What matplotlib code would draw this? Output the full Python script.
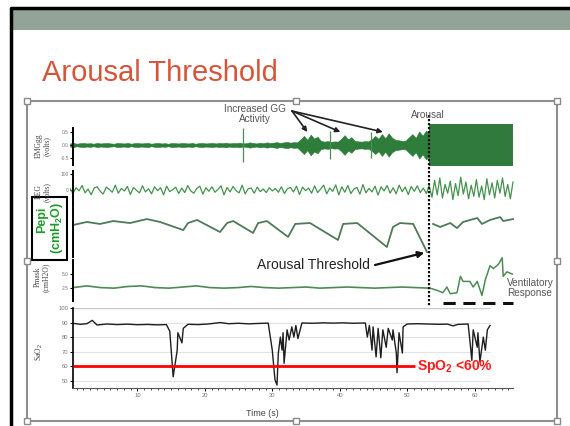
import matplotlib.pyplot as plt
import numpy as np
from matplotlib.patches import Rectangle

plt.rcParams['font.family'] = ['Liberation Sans', 'DejaVu Sans']
plt.rcParams['mathtext.fontset'] = 'custom'
plt.rcParams['mathtext.rm'] = 'Liberation Sans'
plt.rcParams['mathtext.bf'] = 'Liberation Sans:bold'

# ---- data (time in s) ----
arousal_t = 53.3
end_t = 65.7

# EMGgg envelope (half amplitude, volts), evenly spread 0 .. arousal
emg_amp_pre = [
    0.06, 0.08, 0.05, 0.07, 0.08, 0.06, 0.07, 0.05, 0.08, 0.06, 0.07, 0.08, 0.06, 0.05, 0.08, 0.07, 0.06, 0.08, 0.05, 0.07,
    0.08, 0.06, 0.07, 0.08, 0.05, 0.07, 0.08, 0.06, 0.07, 0.05, 0.08, 0.07, 0.06, 0.08, 0.07, 0.06, 0.08, 0.05, 0.07, 0.08,
    0.06, 0.07, 0.08, 0.06, 0.08, 0.07, 0.09, 0.06, 0.08, 0.07, 0.09, 0.06, 0.07, 0.10, 0.08, 0.06, 0.09, 0.07, 0.10, 0.08,
    0.09, 0.11, 0.08, 0.10, 0.12, 0.09, 0.11, 0.10, 0.22, 0.35, 0.20, 0.40, 0.25, 0.32, 0.16, 0.13, 0.15, 0.12, 0.14, 0.13,
    0.24, 0.38, 0.22, 0.30, 0.16, 0.14, 0.13, 0.15, 0.14, 0.22, 0.35, 0.24, 0.42, 0.26, 0.45, 0.28, 0.20, 0.18, 0.16, 0.17,
    0.30, 0.42, 0.28, 0.52, 0.36, 0.55, 0.45,
]
emg_block_amp = 0.8
spike_t = [25.6, 38.6, 44.7]
spike_amp = [0.65, 0.55, 0.5]

# EEG (uV), evenly spread before / after arousal
eeg_pre = [
    8, -22, 14, -5, 28, -18, 6, -30, 12, 20, -8, -25, 18, 4, -14, 30, -20, 10, -6, 22,
    -28, 16, -2, -18, 26, -12, 8, -24, 20, -4, 14, -30, 24, -10, 2, 18, -22, 12, -16, 28,
    -6, -20, 10, 24, -26, 14, -8, 20, -14, 4, 26, -30, 16, -12, 22, -4, -18, 30, -24, 8,
    12, -20, 18, -10, 6, -16, 14, -6, 10, -14, 20, -22, 8, 16, -12, 24, -28, 18, -4, 12,
    -20, 26, -16, 6, 30, -24, 12, -8, 32, -30, 20, -14, 28, -22, 6, 16, -26, 34, -18, 10,
    -12, 24, -32, 20, -6, 28, -20, 14, -24, 30, -10, 18, -28, 22, -8, 26, -16, 12, -22, 30,
]
eeg_post = [
    20, -45, 60, -30, 75, -50, 35, -20, 55, -60, 40, -35, 80, -25, 50, -55, 30, -40, 65, -45,
    25, -60, 70, -30, 45, -50, 60, -20, 75, -40, 35, -55, 50,
]

# Pepi (cmH2O)
pepi_t_pre = [0.45, 2.5, 4.45, 6.4, 8.9, 11.4, 13.35, 16.8, 17.5, 18.85, 22.25, 23.3, 24.2, 27.15,
              27.9, 29.2, 32.35, 33.4, 35.6, 39.75, 40.5, 42.6, 47.0, 47.9, 48.95, 50.9, 52.95]
pepi_v_pre = [-7.1, -5.1, -6.4, -4.5, -5.8, -3.2, -5.1, -10.4, -5.8, -3.8, -11.7, -5.8, -4.5, -12.3,
              -5.8, -4.5, -14.9, -6.4, -5.8, -16.9, -6.4, -5.8, -21.5, -8.4, -5.8, -6.4, -24.8]
pepi_t_post = [53.85, 54.9, 56.4, 57.4, 58.3, 60.4, 61.1, 62.3, 63.8, 64.25, 65.7]
pepi_v_post = [-6.4, -8.4, -5.8, -9.1, -5.1, -2.5, -6.4, -3.8, -1.9, -4.5, -3.2]

# Pmask (cmH2O)
pmask_pre = [2.6, 2.9, 2.6, 2.5, 2.8, 2.9, 2.6, 2.5, 2.7, 2.9, 2.6, 2.5, 2.6, 2.8,
             2.6, 2.5, 2.6, 2.7, 2.5, 2.6, 2.7, 2.6, 2.5, 2.6, 2.7, 2.6, 2.5]
pmask_t_post = [53.4, 54.45, 55.3, 55.9, 56.4, 57.4, 57.9, 58.3, 59.3, 59.8, 60.4, 61.1, 61.6,
                62.3, 62.8, 63.5, 64.1, 64.25, 64.8, 65.6]
pmask_v_post = [2.5, 2.1, 1.7, 2.7, 1.5, 1.7, 4.6, 3.7, 3.7, 2.7, 3.7, 1.2, 4.0,
                6.5, 6.0, 6.7, 7.9, 4.6, 5.4, 5.0]

# SpO2 (%)
spo2_t = [0.4, 1.5, 2.5, 3.3, 4.0, 5.5, 7.0, 8.5, 10.0, 11.5, 13.0, 14.3, 14.8, 15.3, 15.9, 16.0,
          16.6, 16.8, 17.5, 19.0, 20.5, 22.3, 23.5, 25.0, 26.5, 28.0, 29.4, 30.0, 30.4, 30.7, 30.9,
          31.2, 31.45, 31.6, 31.75, 32.2, 32.5, 32.9, 33.2, 33.5, 33.8, 34.4, 36.0, 37.5, 39.0, 40.5,
          42.0, 43.8, 44.1, 44.4, 44.8, 44.95, 45.4, 45.7, 46.1, 46.4, 46.9, 47.2, 47.8, 47.9, 48.4,
          48.5, 48.8, 49.3, 49.4, 50.0, 51.5, 53.0, 54.5, 56.0, 56.8, 57.5, 59.05, 59.3, 59.6, 59.8,
          60.4, 60.5, 60.8, 61.3, 61.6, 61.9, 62.3]
spo2_v = [89.5, 88.8, 89.2, 91.5, 88.3, 89.0, 88.6, 88.9, 88.5, 88.7, 88.4, 88.6, 84.0, 52.7, 71.0, 83.0,
          76.0, 86.0, 88.8, 88.6, 89.0, 90.0, 89.2, 89.5, 89.1, 89.4, 89.6, 71.0, 50.7, 47.0, 69.0,
          80.0, 71.0, 83.0, 62.0, 85.0, 78.0, 87.0, 80.0, 88.0, 79.0, 89.7, 89.5, 89.8, 89.6, 89.8,
          89.5, 89.7, 80.0, 88.0, 71.0, 87.0, 66.4, 86.0, 65.8, 85.0, 73.0, 86.0, 78.0, 85.0, 69.0,
          55.5, 83.0, 69.0, 87.0, 89.0, 89.2, 89.0, 88.8, 88.9, 87.7, 88.7, 89.0, 78.0, 64.0, 85.0,
          73.0, 83.0, 63.0, 80.0, 71.0, 85.0, 88.0]
spo2_limit = 60
time_ticks = [10, 20, 30, 40, 50, 60]

W, H = 570, 426


def box(x0, y0, x1, y1):
    # pixel rect (origin top-left) -> figure rect
    return [x0 / W, 1 - y1 / H, (x1 - x0) / W, (y1 - y0) / H]


def fp(x, y):
    return (x / W, 1 - y / H)


fig = plt.figure(figsize=(5.7, 4.26), dpi=100)

# slide background
deco = fig.add_axes([0, 0, 1, 1])
deco.set_xlim(0, W)
deco.set_ylim(H, 0)
deco.axis('off')
deco.add_patch(Rectangle((12, 10), 560, 20, color='#93a397', lw=0))
deco.plot([11, 11, 570], [426, 8, 8], color='black', lw=2.5)
deco.text(42, 73, 'Arousal Threshold', fontsize=21, color='#d6553a', va='center')
deco.plot([27, 557, 557, 27, 27], [101, 101, 421, 421, 101], color='#8f8f8f', lw=1.5)


def trace_ax(y0, y1, ylim):
    ax = fig.add_axes(box(70, y0, 515, y1))
    ax.set_xlim(0, 66)
    ax.set_ylim(*ylim)
    ax.patch.set_alpha(0)
    for s in ['top', 'right', 'bottom']:
        ax.spines[s].set_visible(False)
    ax.spines['left'].set_linewidth(1.4)
    ax.spines['left'].set_position(('axes', 3 / 445))
    ax.set_xticks([])
    ax.tick_params(axis='y', length=2, width=0.8, labelsize=3.5, labelcolor='#777', pad=1)
    return ax


# EMGgg
ax_emg = trace_ax(119, 171, (-1, 1))
t_emg = np.linspace(0, arousal_t, len(emg_amp_pre))
amp = np.array(emg_amp_pre)
ax_emg.fill_between(t_emg, -amp, amp, color='#2e7d3a', lw=0.4)
ax_emg.vlines(spike_t, -np.array(spike_amp), spike_amp, color='#4d8d58', lw=0.9)
ax_emg.fill_between([arousal_t, end_t], -emg_block_amp, emg_block_amp, color='#2f7a3c', lw=0)
ax_emg.set_yticks([-0.5, 0, 0.5], ['-0.5', '0.0', '0.5'])
ax_emg.spines['left'].set_bounds(-0.75, 0.65)

# EEG
ax_eeg = trace_ax(168, 212, (-137, 137))
ax_eeg.plot(np.linspace(0, arousal_t, len(eeg_pre)), eeg_pre, color='#45924f', lw=0.9)
ax_eeg.plot(np.linspace(arousal_t, end_t, len(eeg_post)), eeg_post, color='#45924f', lw=0.9)
ax_eeg.set_yticks([0, 100], ['0', '100'])
ax_eeg.spines['left'].set_bounds(-100, 120)

# Pepi
ax_pepi = trace_ax(205, 260, (-30, 6))
ax_pepi.plot(pepi_t_pre, pepi_v_pre, color='#4f7a58', lw=1.3)
ax_pepi.plot(pepi_t_post, pepi_v_post, color='#4f7a58', lw=1.3)
ax_pepi.set_yticks([])
ax_pepi.spines['left'].set_bounds(-28, 4)

# Pmask
ax_pm = trace_ax(255, 305, (-0.5, 8.4))
ax_pm.plot(np.linspace(0.45, arousal_t, len(pmask_pre)), pmask_pre, color='#4e8a55', lw=1.2)
ax_pm.plot(pmask_t_post, pmask_v_post, color='#4e8a55', lw=1.1)
ax_pm.set_yticks([2.5, 5.0], ['2.5', '5.0'])
ax_pm.spines['left'].set_bounds(0.3, 7.5)
ax_pm.hlines(-0.2, 55.3, end_t, colors='#111', lw=2.2, linestyles=(0, (4, 2.5)))

# SpO2
ax_s = fig.add_axes(box(70, 308, 515, 388))
ax_s.set_xlim(0, 66)
ax_s.set_ylim(45, 100)
ax_s.patch.set_alpha(0)
ax_s.spines['top'].set_visible(False)
ax_s.spines['right'].set_visible(False)
ax_s.spines['left'].set_position(('axes', 3 / 445))
ax_s.spines['left'].set_linewidth(1.2)
ax_s.spines['bottom'].set_color('#555')
ax_s.spines['bottom'].set_bounds(0.45, end_t)
ax_s.hlines([50, 60, 70, 80, 90], 0.45, 62.3, colors='#e3e3e3', lw=0.8, zorder=0)
ax_s.hlines(100, 0.45, 62.3, colors='#c8c8c8', lw=1.0, zorder=0)
ax_s.plot(spo2_t, spo2_v, color='#1e1e1e', lw=1.0)
ax_s.hlines(spo2_limit, 0.45, 51.2, colors='#ff0000', lw=2, zorder=5)
ax_s.text(51.4, spo2_limit, r'SpO$_\mathbf{2}$ <60%', color='#ff1a1a', fontsize=10,
          fontweight='bold', va='center', ha='left')
ax_s.set_xticks(time_ticks, [str(v) for v in time_ticks])
ax_s.set_xticks(np.arange(1, 66), minor=True)
ax_s.set_yticks([50, 60, 70, 80, 90, 100], ['50', '60', '70', '80', '90', '100'])
ax_s.tick_params(axis='both', length=2, width=0.7, labelsize=4.2, labelcolor='#777', pad=1.5)
ax_s.tick_params(axis='x', which='minor', length=1.2, width=0.5)

# overlay in time / pixel coords for the arousal marker
ov = fig.add_axes(box(70, 0, 515, 426))
ov.set_xlim(0, 66)
ov.set_ylim(H, 0)
ov.axis('off')
ov.vlines(arousal_t, 115, 306, colors='#111', lw=1.6, linestyles=(0, (1, 0.8)))

# channel labels
lab = dict(rotation=90, fontsize=5.5, color='#444', ha='center', va='center',
           family=['Liberation Serif', 'DejaVu Serif'], linespacing=1.0)
fig.text(*fp(43, 146), 'EMGgg\n(volts)', **lab)
fig.text(*fp(43, 192), 'EEG\n(volts)', **lab)
fig.text(*fp(42, 277), 'Pmask\n(cmH2O)', **lab)
fig.text(*fp(39, 352), 'SaO$_2$', **lab)
fig.text(*fp(262, 414), 'Time (s)', fontsize=6.5, color='#444', ha='center', va='center')

# top layer: label box, annotations, selection handles
top = fig.add_axes([0, 0, 1, 1])
top.set_xlim(0, W)
top.set_ylim(H, 0)
top.axis('off')
top.add_patch(Rectangle((32, 197), 35, 63, fc='white', ec='black', lw=1.5))
top.text(42, 220, 'Pepi', rotation=90, fontsize=9, fontweight='bold', color='#1e9b2d',
         ha='center', va='center')
top.text(57, 228, r'(cmH$_\mathbf{2}$O)', rotation=90, fontsize=9, fontweight='bold',
         color='#1e9b2d', ha='center', va='center')
top.text(255, 114, 'Increased GG\nActivity', fontsize=7.2, color='#555', ha='center',
         va='center', linespacing=1.0)
top.text(428, 115, 'Arousal', fontsize=7.2, color='#555', ha='center', va='center')
top.text(257, 265, 'Arousal Threshold', fontsize=10, color='#222', ha='left', va='center')
top.text(507, 288, 'Ventilatory\nResponse', fontsize=7.2, color='#555', ha='left',
         va='center', linespacing=1.0)
hx = [27, 296, 557, 27, 557, 27, 296, 557]
hy = [101, 101, 101, 261, 261, 421, 421, 421]
top.plot(hx, hy, 's', ms=5, mfc='white', mec='#8a8a8a', mew=1)

for tt in [35.2, 40.1, 46.4]:
    ax_emg.annotate('', xy=(tt, 0.5), xytext=fp(292, 111), textcoords='figure fraction',
                    arrowprops=dict(arrowstyle='-|>', color='#222', lw=1.2, mutation_scale=7,
                                    shrinkA=0, shrinkB=0))
ax_pepi.annotate('', xy=(pepi_t_pre[-1], pepi_v_pre[-1]), xytext=fp(375, 265),
                 textcoords='figure fraction',
                 arrowprops=dict(arrowstyle='-|>', color='#111', lw=1.6, mutation_scale=9,
                                 shrinkA=0, shrinkB=2))

fig.savefig('out.png', dpi=100)
